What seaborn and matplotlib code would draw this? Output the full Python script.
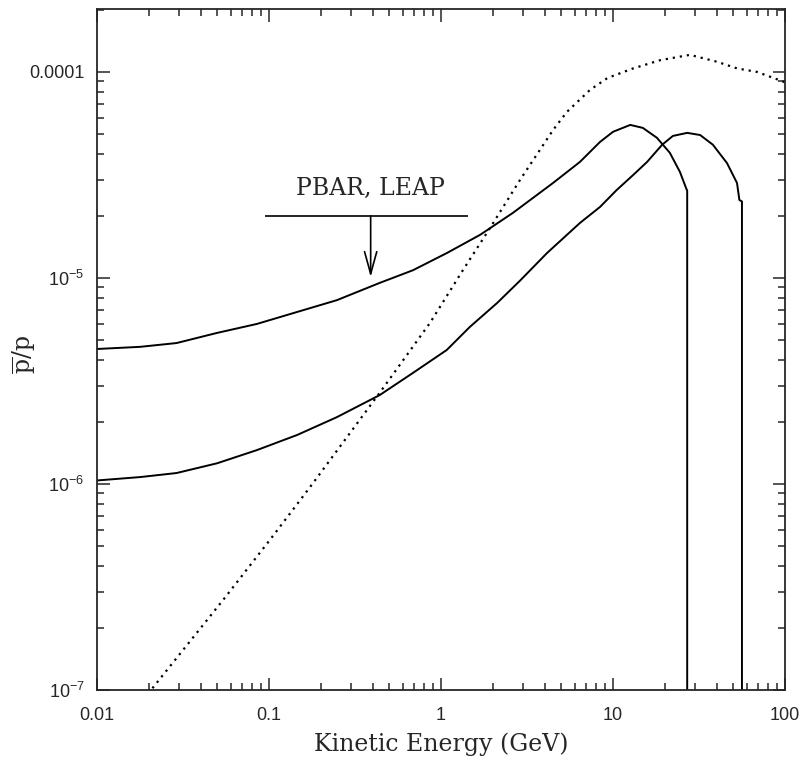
import numpy as np
import pandas as pd
import seaborn as sns
from matplotlib import pyplot as plt
from matplotlib.ticker import LogLocator, NullFormatter

# kinetic energy (GeV) and pbar/p ratio
upper_x = [0.01, 0.0178, 0.029, 0.0499, 0.085, 0.146, 0.248, 0.44, 0.687, 1.08, 1.69, 2.62,
           4.48, 6.43, 8.4, 10.0, 12.6, 14.9, 18.0, 21.4, 24.5, 26.6, 27.0, 27.0]
upper_y = [4.52e-6, 4.63e-6, 4.83e-6, 5.41e-6, 5.98e-6, 6.84e-6, 7.8e-6, 9.46e-6, 1.09e-5,
           1.32e-5, 1.62e-5, 2.07e-5, 2.89e-5, 3.66e-5, 4.57e-5, 5.12e-5, 5.53e-5, 5.35e-5,
           4.79e-5, 4.05e-5, 3.27e-5, 2.73e-5, 2.65e-5, 1e-8]

lower_x = [0.01, 0.0178, 0.029, 0.0499, 0.085, 0.146, 0.248, 0.44, 0.687, 1.08, 1.47, 2.12,
           2.88, 4.13, 6.43, 8.4, 10.5, 13.1, 15.8, 19.3, 22.3, 27.0, 32.1, 38.1, 46, 52.6,
           54.3, 56.2, 56.2]
lower_y = [1.04e-6, 1.08e-6, 1.13e-6, 1.26e-6, 1.46e-6, 1.73e-6, 2.11e-6, 2.70e-6, 3.46e-6,
           4.47e-6, 5.78e-6, 7.56e-6, 9.7e-6, 1.32e-5, 1.85e-5, 2.21e-5, 2.67e-5, 3.16e-5,
           3.66e-5, 4.43e-5, 4.89e-5, 5.06e-5, 4.94e-5, 4.43e-5, 3.61e-5, 2.89e-5, 2.39e-5,
           2.35e-5, 1e-8]

dotted_x = [0.021, 0.054, 0.101, 0.152, 0.185, 0.44, 0.863, 1.34, 1.93, 2.88, 4.48, 5.4,
            7.35, 9.3, 13.1, 18.8, 28.0, 40.3, 52.6, 68.7, 93.5, 100]
dotted_y = [1.02e-7, 2.73e-7, 5.34e-7, 8.36e-7, 1.04e-6, 2.77e-6, 6.05e-6, 1.09e-5, 1.75e-5,
            2.99e-5, 5.22e-5, 6.4e-5, 8.18e-5, 9.35e-5, 1.04e-4, 1.14e-4, 1.21e-4, 1.12e-4,
            1.04e-4, 1.0e-4, 9.1e-5, 8.9e-5]

x_ticks = [0.01, 0.1, 1, 10, 100]
x_labels = ["0.01", "0.1", "1", "10", "100"]
y_ticks = [1e-7, 1e-6, 1e-5, 1e-4]
y_labels = [r"$10^{-7}$", r"$10^{-6}$", r"$10^{-5}$", "0.0001"]

sns.set_style("ticks")
plt.rcParams["font.family"] = ["Liberation Sans", "DejaVu Sans"]
plt.rcParams["mathtext.fontset"] = "custom"
plt.rcParams["mathtext.rm"] = "Liberation Sans"
plt.rcParams["mathtext.it"] = "Liberation Sans"

fig = plt.figure(figsize=(8.02, 7.63), dpi=100)
ax = fig.add_axes([97 / 802, 1 - 690 / 763, 688 / 802, 681 / 763])

line_kw = dict(color="black", estimator=None, sort=False, ax=ax, legend=False)
sns.lineplot(x=upper_x, y=upper_y, lw=1.4, **line_kw)
sns.lineplot(x=lower_x, y=lower_y, lw=1.4, **line_kw)
sns.lineplot(x=dotted_x, y=dotted_y, lw=1.6, linestyle=(0, (1, 2.2)), **line_kw)

ax.set_xscale("log")
ax.set_yscale("log")
ax.set_xlim(0.01, 100)
ax.set_ylim(1e-7, 2.02e-4)

ax.set_xticks(x_ticks, x_labels)
ax.set_yticks(y_ticks, y_labels)
ax.xaxis.set_minor_locator(LogLocator(base=10, subs=np.arange(2, 10)))
ax.yaxis.set_minor_locator(LogLocator(base=10, subs=np.arange(2, 10)))
ax.xaxis.set_minor_formatter(NullFormatter())
ax.yaxis.set_minor_formatter(NullFormatter())

ax.tick_params(which="both", direction="in", top=True, right=True, width=1.1, labelsize=13)
ax.tick_params(which="major", length=9)
ax.tick_params(which="minor", length=5)
ax.tick_params(axis="x", pad=12)
ax.tick_params(axis="y", pad=9)
for s in ax.spines.values():
    s.set_linewidth(1.3)

ax.set_xlabel("Kinetic Energy (GeV)", family="DejaVu Serif", fontsize=17, labelpad=6)
ax.set_ylabel(r"$\overline{\mathrm{p}}/\mathrm{p}$", fontsize=17,
              math_fontfamily="dejavuserif")
ax.yaxis.set_label_coords(-0.086, 0.492)

# PBAR, LEAP marker
ax.text(0.39, 2.73e-5, "PBAR, LEAP", family="DejaVu Serif", fontsize=17,
        ha="center", va="center")
ax.hlines(2.0e-5, 0.095, 1.43, color="black", lw=1.2)
ax.annotate("", xy=(0.39, 1.01e-5), xytext=(0.39, 2.0e-5),
            arrowprops=dict(arrowstyle="->, head_length=0.8, head_width=0.22",
                            lw=1.2, color="black", mutation_scale=20,
                            shrinkA=0, shrinkB=0))

fig.savefig("out.png", dpi=100)
